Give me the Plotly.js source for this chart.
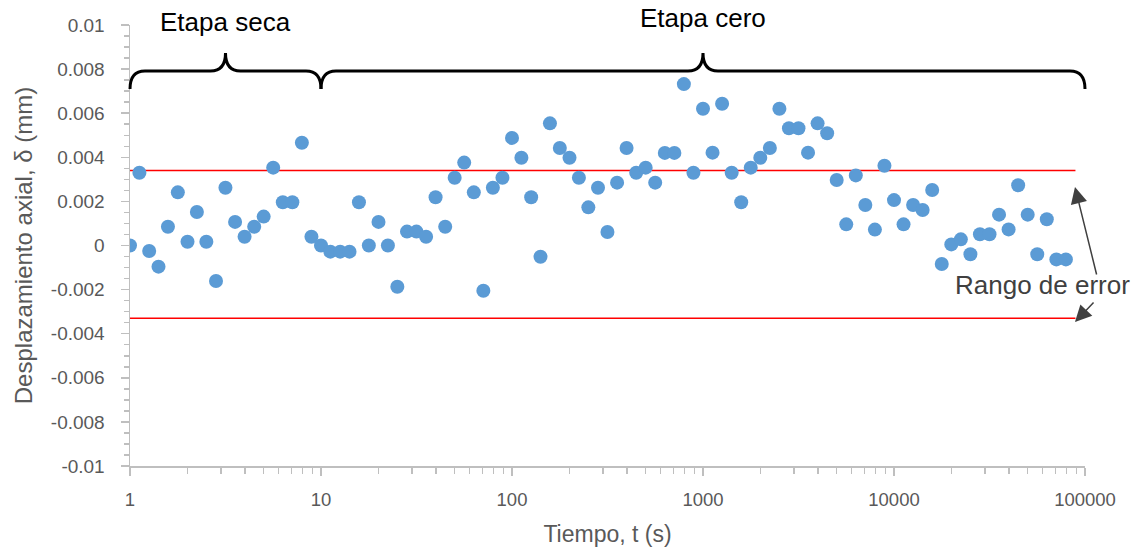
<!DOCTYPE html>
<html>
<head>
<meta charset="utf-8">
<script src="https://cdn.plot.ly/plotly-3.0.1.min.js"></script>
<style>html,body{margin:0;padding:0;background:#fff;}#chart{width:1137px;height:552px;}</style>
</head>
<body>
<div id="chart"></div>
<script>
// Time (s)
const timeS = [
  1, 1.12, 1.26, 1.41, 1.58, 1.78, 2, 2.24, 2.51, 2.82, 3.16, 3.55, 3.98, 4.47, 5.01, 5.62, 6.31, 7.08, 7.94, 8.91,
  10, 11.2, 12.6, 14.1, 15.8, 17.8, 20, 22.4, 25.1, 28.2, 31.6, 35.5, 39.8, 44.7, 50.1, 56.2, 63.1, 70.8, 79.4, 89.1,
  100, 112, 126, 141, 158, 178, 200, 224, 251, 282, 316, 355, 398, 447, 501, 562, 631, 708, 794, 891,
  1000, 1122, 1259, 1413, 1585, 1778, 1995, 2239, 2512, 2818, 3162, 3548, 3981, 4467, 5012, 5623, 6310, 7079, 7943, 8913,
  10000, 11220, 12589, 14125, 15849, 17783, 19953, 22387, 25119, 28184, 31623, 35481, 39811, 44668, 50119, 56234, 63096, 70795, 79433
];
// Axial displacement (mm)
const despl = [
  0.0000, 0.0033, -0.00025, -0.00096, 0.00085, 0.00241, 0.00017, 0.00152, 0.00017, -0.00161,
  0.00262, 0.00107, 0.0004, 0.00085, 0.00131, 0.00353, 0.00196, 0.00196, 0.00466, 0.0004,
  0.0000, -0.00028, -0.00028, -0.00028, 0.00196, 0.0000, 0.00107, 0.0000, -0.00187, 0.00063,
  0.00063, 0.0004, 0.00219, 0.00085, 0.00307, 0.00376, 0.00241, -0.00205, 0.00262, 0.00307,
  0.00488, 0.00398, 0.00219, -0.00051, 0.00554, 0.00442, 0.00398, 0.00307, 0.00173, 0.00262,
  0.00061, 0.00285, 0.00442, 0.0033, 0.00353, 0.00285, 0.0042, 0.0042, 0.00732, 0.0033,
  0.0062, 0.00421, 0.00643, 0.0033, 0.00196, 0.00353, 0.00398, 0.00442, 0.0062, 0.00532,
  0.00532, 0.00421, 0.00554, 0.00509, 0.00297, 0.00096, 0.00318, 0.00184, 0.00072, 0.00362,
  0.00206, 0.00096, 0.00184, 0.00161, 0.00252, -0.00084, 0.00005, 0.00028, -0.0004, 0.00051,
  0.00051, 0.0014, 0.00073, 0.00273, 0.0014, -0.0004, 0.00119, -0.00063, -0.00063
];
// Error range limits
const errTimes = [1, 89125];
const errUpper = [0.0034, 0.0034];
const errLower = [-0.0033, -0.0033];
// Stages
const stageNames = ['Etapa seca', 'Etapa cero'];
const stageStart = [1, 10];
const stageEnd = [10, 100000];
// Tick labels
const xTickVals = [1, 10, 100, 1000, 10000, 100000];
const xTickText = ['1', '10', '100', '1000', '10000', '100000'];
const yTickVals = [-0.01, -0.008, -0.006, -0.004, -0.002, 0, 0.002, 0.004, 0.006, 0.008, 0.01];
const yTickText = ['-0.01', '-0.008', '-0.006', '-0.004', '-0.002', '0', '0.002', '0.004', '0.006', '0.008', '0.01'];

const FONT = 'Liberation Sans, Arial, sans-serif';
const GRAY = '#595959';
const AXC = '#BFBFBF';

const traces = [
  {x: errTimes, y: errUpper, mode: 'lines', line: {color: '#FF0000', width: 1.5}, hoverinfo: 'skip', showlegend: false},
  {x: errTimes, y: errLower, mode: 'lines', line: {color: '#FF0000', width: 1.5}, hoverinfo: 'skip', showlegend: false},
  {x: timeS, y: despl, mode: 'markers', marker: {color: '#5B9BD5', size: 14}, showlegend: false}
];

// braces (paper coordinates, x from log10 of time over range [0,5])
const XLOGMAX = 5;
const yBot = 0.855, yH = 0.8957, yTip = 0.9365, rX = 15 / 955;
const shapes = [];
const annotations = [];
for (let i = 0; i < stageNames.length; i++) {
  const xl = Math.log10(stageStart[i]) / XLOGMAX;
  const xr = Math.log10(stageEnd[i]) / XLOGMAX;
  const xt = (xl + xr) / 2;
  const p = `M${xl},${yBot} Q${xl},${yH} ${xl + rX},${yH} L${xt - rX},${yH} Q${xt},${yH} ${xt},${yTip} ` +
            `Q${xt},${yH} ${xt + rX},${yH} L${xr - rX},${yH} Q${xr},${yH} ${xr},${yBot}`;
  shapes.push({type: 'path', xref: 'paper', yref: 'paper', path: p, line: {color: '#000000', width: 3}});
  annotations.push({xref: 'paper', yref: 'paper', x: xt, y: i === 0 ? 1.007 : 1.0152,
    xanchor: 'center', yanchor: 'middle', showarrow: false, text: stageNames[i],
    font: {family: FONT, size: 26, color: '#000000'}});
}
annotations.push({xref: 'paper', yref: 'paper', x: 0.956, y: 0.4111, xanchor: 'center', yanchor: 'middle',
  showarrow: false, text: 'Rango de error', font: {family: FONT, size: 26, color: '#404040'}});
annotations.push({xref: 'paper', yref: 'paper', x: 0.9895, y: 0.6327, ax: 22, ay: 89, text: '',
  showarrow: true, arrowhead: 2, arrowsize: 2.2, arrowwidth: 1.5, arrowcolor: '#404040', standoff: 0});
annotations.push({xref: 'paper', yref: 'paper', x: 0.9895, y: 0.3265, ax: 20, ay: -21, text: '',
  showarrow: true, arrowhead: 2, arrowsize: 2.2, arrowwidth: 1.5, arrowcolor: '#404040', standoff: 0});

const layout = {
  width: 1137, height: 552,
  margin: {l: 130, r: 52, t: 25, b: 86},
  paper_bgcolor: '#ffffff', plot_bgcolor: '#ffffff',
  showlegend: false,
  xaxis: {
    type: 'log', range: [0, 5], tickmode: 'array', tickvals: xTickVals, ticktext: xTickText,
    showgrid: false, zeroline: false, showline: true, linecolor: AXC, linewidth: 1.5,
    ticks: 'outside', ticklen: 8, tickwidth: 1.5, tickcolor: AXC,
    minor: {ticks: 'outside', ticklen: 6, tickwidth: 1.5, tickcolor: AXC, dtick: 'D1', showgrid: false},
    tickfont: {family: FONT, size: 18.5, color: GRAY}, ticklabelstandoff: 8,
    title: {text: 'Tiempo, t (s)', font: {family: FONT, size: 23, color: GRAY}, standoff: 17},
    automargin: false
  },
  yaxis: {
    range: [-0.01, 0.01], tickmode: 'array', tickvals: yTickVals, ticktext: yTickText,
    showgrid: false, zeroline: false, showline: true, linecolor: AXC, linewidth: 1.5,
    ticks: 'outside', ticklen: 8, tickwidth: 1.5, tickcolor: AXC,
    minor: {ticks: 'outside', ticklen: 5, tickwidth: 1.5, tickcolor: AXC, tick0: 0, dtick: 0.0005, showgrid: false},
    tickfont: {family: FONT, size: 19, color: GRAY}, ticklabelstandoff: 12,
    title: {text: 'Desplazamiento axial, δ (mm)', font: {family: FONT, size: 24, color: GRAY}, standoff: 11},
    automargin: false
  },
  shapes: shapes,
  annotations: annotations
};

Plotly.newPlot('chart', traces, layout, {displayModeBar: false, staticPlot: true});
</script>
</body>
</html>
